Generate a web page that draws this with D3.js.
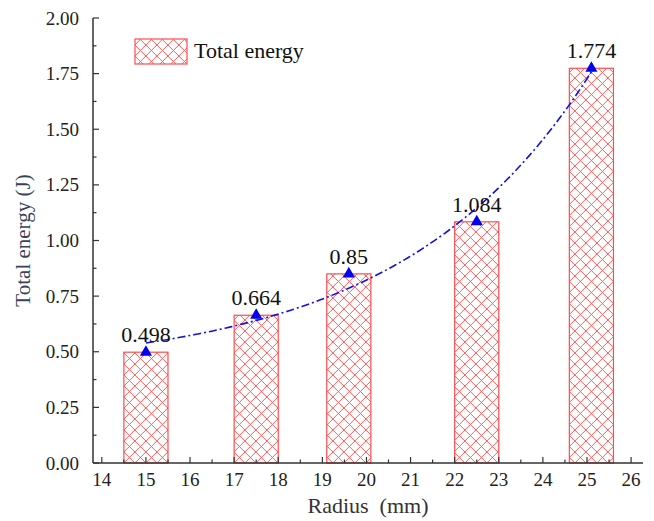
<!DOCTYPE html>
<html>
<head>
<meta charset="utf-8">
<script src="https://cdn.jsdelivr.net/npm/d3@7/dist/d3.min.js"></script>
<style>
  html, body { margin: 0; padding: 0; background: #fff; }
  svg { display: block; font-family: "Liberation Serif", "Times New Roman", serif; }
</style>
</head>
<body>
<svg id="chart" width="654" height="521"></svg>
<script>
// Radius of each sample (mm) and the measured total energy (J)
const radius = [15, 17.5, 19.6, 22.5, 25.1];
const energy = [0.498, 0.664, 0.85, 1.084, 1.774];
const valueLabels = ["0.498", "0.664", "0.85", "1.084", "1.774"];
const xTicks = [14, 15, 16, 17, 18, 19, 20, 21, 22, 23, 24, 25, 26];
const yTicks = [0, 0.25, 0.5, 0.75, 1.0, 1.25, 1.5, 1.75, 2.0];
const seriesName = "Total energy";

const svg = d3.select("#chart");

const x = d3.scaleLinear().domain([13.8, 26.27]).range([93, 643]);
const y = d3.scaleLinear().domain([0, 2]).range([463, 18]);

// cross-hatch fill for the bars
const defs = svg.append("defs");
const pat = defs.append("pattern")
  .attr("id", "hatch")
  .attr("patternUnits", "userSpaceOnUse")
  .attr("width", 11).attr("height", 11)
  .attr("x", x(14.5)).attr("y", y(0));
pat.append("rect").attr("width", 11).attr("height", 11).attr("fill", "#fff");
pat.append("path")
  .attr("d", "M0,0L11,11M0,11L11,0M-1,1L1,-1M10,12L12,10M-1,10L1,12M10,-1L12,1")
  .attr("stroke", "#ff4a4a").attr("stroke-width", 0.9).attr("fill", "none");

const barW = x(1) - x(0);

// bars
svg.append("g").selectAll("rect")
  .data(radius)
  .join("rect")
  .attr("x", (d) => x(d) - barW / 2)
  .attr("y", (d, i) => y(energy[i]))
  .attr("width", barW)
  .attr("height", (d, i) => y(0) - y(energy[i]))
  .attr("fill", "url(#hatch)")
  .attr("stroke", "#ff4d4d")
  .attr("stroke-width", 1.2);

// exponential growth fit: E = y0 + A * exp(r / t)
function fitExp(xs, ys) {
  let best = null;
  for (let t = 1; t <= 40; t += 0.01) {
    const u = xs.map((v) => Math.exp(v / t));
    const n = xs.length;
    const mu = d3.mean(u), my = d3.mean(ys);
    let sxy = 0, sxx = 0;
    for (let i = 0; i < n; i++) {
      sxy += (u[i] - mu) * (ys[i] - my);
      sxx += (u[i] - mu) * (u[i] - mu);
    }
    const A = sxy / sxx, y0 = my - A * mu;
    let sse = 0;
    for (let i = 0; i < n; i++) sse += (y0 + A * u[i] - ys[i]) ** 2;
    if (!best || sse < best.sse) best = { t, A, y0, sse };
  }
  return best;
}
const fit = fitExp(radius, energy);
const fitX = d3.range(0, 101).map((k) => radius[0] + (radius[radius.length - 1] - radius[0]) * k / 100);
const fitPts = fitX.map((r) => [r, fit.y0 + fit.A * Math.exp(r / fit.t)]);

svg.append("path")
  .datum(fitPts)
  .attr("d", d3.line().x((d) => x(d[0])).y((d) => y(d[1])))
  .attr("fill", "none")
  .attr("stroke", "#1010e8")
  .attr("stroke-width", 1.6)
  .attr("stroke-dasharray", "8,3,2,3");

// markers
svg.append("g").selectAll("path")
  .data(radius)
  .join("path")
  .attr("transform", (d, i) => `translate(${x(d)},${y(energy[i])})`)
  .attr("d", d3.symbol(d3.symbolTriangle, 64))
  .attr("fill", "#0000f0");

// value labels
svg.append("g").selectAll("text")
  .data(radius)
  .join("text")
  .attr("x", (d) => x(d))
  .attr("y", (d, i) => y(energy[i]) - 10)
  .attr("text-anchor", "middle")
  .attr("font-size", 22)
  .attr("fill", "#111")
  .text((d, i) => valueLabels[i]);

// axes
const axisColor = "#333";
const xAxis = svg.append("g").attr("transform", `translate(0,${y(0)})`);
xAxis.append("line").attr("x1", x.range()[0]).attr("x2", x.range()[1])
  .attr("stroke", axisColor).attr("stroke-width", 1.5);
const xMinor = d3.range(14.5, 26.5, 1);
xAxis.selectAll(".minor").data(xMinor).join("line")
  .attr("x1", (d) => x(d)).attr("x2", (d) => x(d))
  .attr("y1", 0).attr("y2", -3.5)
  .attr("stroke", axisColor).attr("stroke-width", 1.2);
xAxis.selectAll(".major").data(xTicks).join("line")
  .attr("x1", (d) => x(d)).attr("x2", (d) => x(d))
  .attr("y1", 0).attr("y2", -6)
  .attr("stroke", axisColor).attr("stroke-width", 1.2);
xAxis.selectAll("text").data(xTicks).join("text")
  .attr("x", (d) => x(d)).attr("y", 23)
  .attr("text-anchor", "middle")
  .attr("font-size", 19).attr("fill", "#222")
  .text((d) => d);

const yAxis = svg.append("g").attr("transform", `translate(${x.range()[0]},0)`);
yAxis.append("line").attr("y1", y.range()[0]).attr("y2", y.range()[1])
  .attr("stroke", axisColor).attr("stroke-width", 1.5);
const yMinor = d3.range(0.125, 2, 0.25);
yAxis.selectAll(".minor").data(yMinor).join("line")
  .attr("y1", (d) => y(d)).attr("y2", (d) => y(d))
  .attr("x1", 0).attr("x2", 3.5)
  .attr("stroke", axisColor).attr("stroke-width", 1.2);
yAxis.selectAll(".major").data(yTicks).join("line")
  .attr("y1", (d) => y(d)).attr("y2", (d) => y(d))
  .attr("x1", 0).attr("x2", 6)
  .attr("stroke", axisColor).attr("stroke-width", 1.2);
yAxis.selectAll("text").data(yTicks).join("text")
  .attr("x", -14).attr("y", (d) => y(d) + 6.5)
  .attr("text-anchor", "end")
  .attr("font-size", 19).attr("fill", "#222")
  .text((d) => d3.format(".2f")(d));

// axis titles
svg.append("text")
  .attr("x", (x.range()[0] + x.range()[1]) / 2 + 0).attr("y", 513)
  .attr("text-anchor", "middle")
  .attr("font-size", 22).attr("fill", "#333")
  .attr("xml:space", "preserve")
  .text("Radius  (mm)");

svg.append("text")
  .attr("transform", `translate(30,${(y.range()[0] + y.range()[1]) / 2}) rotate(-90)`)
  .attr("text-anchor", "middle")
  .attr("font-size", 21).attr("fill", "#3a4356")
  .text("Total energy (J)");

// legend
const lg = svg.append("g");
lg.append("rect")
  .attr("x", 135).attr("y", 39).attr("width", 52).attr("height", 25)
  .attr("fill", "url(#hatch)").attr("stroke", "#ff4d4d").attr("stroke-width", 1.2);
lg.append("text")
  .attr("x", 194).attr("y", 58)
  .attr("font-size", 22).attr("fill", "#111")
  .text(seriesName);
</script>
</body>
</html>
